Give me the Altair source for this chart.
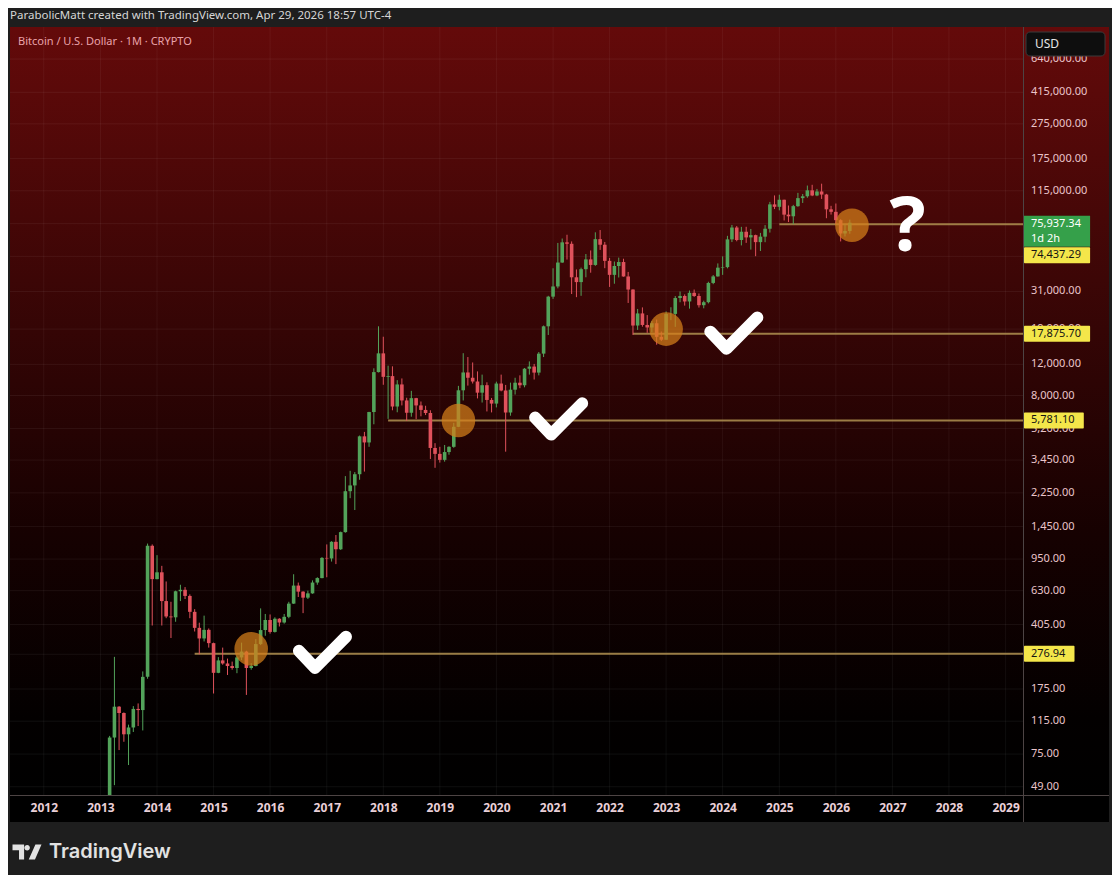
import altair as alt
import pandas as pd

# ---------------- data (monthly BTCUSD, Mar 2013 .. Apr 2026) ----------------
start_month = "2013-03-01"
first_open = 34
closes = [
    93, 139, 128, 97, 106, 135, 133, 205, 1130, 732,                                   # 2013
    800, 550, 450, 445, 625, 637, 588, 478, 388, 338, 378, 318,                         # 2014
    216, 254, 244, 236, 230, 264, 285, 230, 236, 314, 377, 430,                         # 2015
    368, 437, 416, 448, 532, 673, 622, 575, 608, 700, 742, 965,                         # 2016
    958, 1190, 1080, 1350, 2300, 2480, 2870, 4700, 4340, 6450, 10850, 13850,            # 2017
    10200, 10300, 6930, 9240, 7500, 6390, 7730, 7030, 6630, 6370, 4040, 3740,           # 2018
    3460, 3830, 4100, 5320, 8560, 10800, 10080, 9600, 8300, 9150, 7550, 7200,           # 2019
    9350, 8540, 6410, 8630, 9450, 9140, 11340, 11660, 10780, 13800, 19700, 28990,       # 2020
    33100, 45200, 58800, 57700, 37300, 35040, 41460, 47100, 43800, 61300, 57000, 46200, # 2021
    38500, 43200, 45500, 37700, 31800, 19900, 23300, 20050, 19400, 20500, 17170, 16540, # 2022
    23140, 23150, 28470, 29250, 27220, 30470, 29230, 25930, 26970, 34650, 37730, 42280, # 2023
    42580, 61130, 71330, 60640, 67500, 62700, 64600, 58970, 63330, 70200, 96400, 93400, # 2024
    102400, 84350, 82550, 94200, 104600, 107150, 115750, 108250, 114050, 109600, 90400, 87500,  # 2025
    78500, 66000, 68200, 75937.34,                                                      # 2026
]
highs = [
    95, 266, 140, 129, 110, 140, 145, 220, 1163, 1150,
    1000, 870, 710, 545, 630, 680, 660, 600, 495, 415, 455, 385,
    320, 265, 300, 260, 250, 270, 320, 288, 245, 335, 500, 465,
    462, 445, 440, 465, 545, 780, 700, 625, 630, 720, 750, 975,
    1150, 1200, 1300, 1360, 2800, 3000, 2950, 4750, 4980, 6470, 11400, 19700,
    17200, 11800, 11700, 9770, 9990, 7770, 8500, 7760, 7400, 7000, 6600, 4300,
    4100, 4200, 4130, 5600, 9070, 13880, 13200, 12300, 10950, 10500, 9500, 7750,
    9580, 10500, 9180, 9460, 10080, 10400, 11450, 12470, 12070, 14100, 19900, 29300,
    41950, 58350, 61800, 64900, 59500, 41300, 42300, 50500, 52900, 67000, 69000, 59100,
    48000, 45800, 48200, 47500, 40000, 31900, 24700, 25200, 22800, 21100, 21500, 18400,
    23900, 25250, 29200, 31000, 29850, 31400, 31800, 30200, 27500, 35200, 38400, 44700,
    48970, 64000, 73800, 72700, 71950, 72000, 70000, 65000, 66500, 73600, 99600, 108300,
    109350, 102500, 95000, 95750, 112000, 110400, 123200, 124400, 117900, 126200, 110600, 94600,
    97500, 79500, 74000, 79000,
]
lows = [
    33, 50, 79, 88, 65, 100, 108, 102, 200, 400,
    730, 400, 440, 340, 420, 550, 565, 440, 370, 275, 325, 300,
    165, 215, 240, 210, 225, 215, 255, 162, 225, 235, 310, 350,
    360, 365, 395, 410, 440, 530, 580, 470, 565, 605, 680, 740,
    750, 920, 890, 1070, 1340, 2100, 1800, 2670, 2970, 4100, 5500, 10800,
    9200, 5900, 6600, 6430, 7030, 5750, 6070, 5880, 6100, 6200, 3500, 3120,
    3340, 3380, 3700, 4050, 5300, 7500, 9100, 9350, 7700, 7300, 6500, 6420,
    6850, 8450, 3850, 6150, 8100, 8800, 8900, 10500, 9850, 10400, 13200, 17600,
    28150, 32300, 45000, 47000, 30000, 28800, 29300, 37300, 39600, 43300, 53300, 42000,
    32900, 34300, 37200, 37600, 26700, 17600, 18800, 19600, 18100, 18200, 15500, 16250,
    16500, 21350, 19550, 26950, 25800, 24800, 28900, 25150, 24900, 26550, 34100, 37600,
    38500, 41900, 59000, 59600, 56500, 58400, 53500, 49100, 52550, 58900, 66800, 90700,
    89200, 78200, 76600, 74400, 93400, 98200, 105100, 107300, 107300, 103500, 80500, 84400,
    74500, 59500, 63500, 65800,
]

price_ticks = [49, 75, 115, 175, 275, 405, 630, 950, 1450, 2250, 3450, 5200, 8000,
               12000, 19000, 31000, 49000, 75000, 115000, 175000, 275000, 415000, 640000]
years = list(range(2012, 2030))

level_prices = [276.94, 5781.10, 17875.70, 74437.29]
level_starts = ["2014-09-01", "2018-02-01", "2022-06-01", "2025-01-01"]
level_texts = ["276.94", "5,781.10", "17,875.70", "74,437.29"]

circle_dates = ["2015-09-01", "2019-05-01", "2023-01-01", "2026-04-15"]
circle_prices = [295, 5781, 19000, 73500]
check_dates = ["2016-12-01", "2021-02-03", "2024-03-10"]
check_prices = [284, 5930, 18150]
question_date = "2027-04-10"
question_price = 71000

last_price_text = "75,937.34"
countdown_text = "1d 2h"
header_text = "ParabolicMatt created with TradingView.com, Apr 29, 2026 18:57 UTC-4"
title_text = "Bitcoin / U.S. Dollar · 1M · CRYPTO"

# ---------------- frames ----------------
n = len(closes)
assert len(highs) == n and len(lows) == n
opens = [first_open] + closes[:-1]
df = pd.DataFrame({
    "date": pd.date_range(start_month, periods=n, freq="MS"),
    "open": opens, "high": highs, "low": lows, "close": closes,
})
df["dir"] = ["up" if c >= o else "down" for o, c in zip(opens, closes)]

W, H = 1013, 768
AX = 86  # price-axis panel width
FONT = "Noto Sans"
GREEN, RED = "#53a35a", "#e0525c"
LEVEL = "#a88a4c"

xs = alt.Scale(domain=[alt.DateTime(year=2011, month=6, date=29),
                       alt.DateTime(year=2029, month=3, date=22)], nice=False)
ys = alt.Scale(type="log", domain=[44.0, 971400], nice=False)

X_AXIS = alt.Axis(
    values=[alt.DateTime(year=y, month=1, date=1) for y in years], format="%Y",
    grid=False, ticks=False, domain=False, labelColor="#ead0d8", labelFont=FONT,
    labelFontSize=12, labelFontWeight="bold", labelPadding=7, title=None, zindex=1,
    labelOverlap=False, labelFlush=False)

one = pd.DataFrame({"k": [0]})


def X(field="date:T", **kw):
    return alt.X(field, scale=xs, axis=X_AXIS, **kw)


def Y(field, **kw):
    return alt.Y(field, scale=ys, axis=None, **kw)


layers = []

grad = alt.Gradient(
    gradient="linear",
    stops=[alt.GradientStop(color="#640a0a", offset=0),
           alt.GradientStop(color="#3c0606", offset=0.33),
           alt.GradientStop(color="#160101", offset=0.66),
           alt.GradientStop(color="#030000", offset=0.9),
           alt.GradientStop(color="#000000", offset=1)],
    x1=0, x2=0, y1=0, y2=1)
layers.append(alt.Chart(one).mark_rect(fill=grad).encode(
    x=alt.value(0), x2=alt.value(W + AX), y=alt.value(0), y2=alt.value(H)))
layers.append(alt.Chart(one).mark_rect(fill="#000000").encode(
    x=alt.value(0), x2=alt.value(W + AX), y=alt.value(H), y2=alt.value(H + 27)))

# grid
tick_df = pd.DataFrame({"v": price_ticks, "lab": [f"{v:,.2f}" for v in price_ticks]})
layers.append(alt.Chart(tick_df).mark_rule(color="#ffffff", opacity=0.06, strokeWidth=1).encode(
    y=Y("v:Q"), x=alt.value(0), x2=alt.value(W)))
year_df = pd.DataFrame({"date": pd.to_datetime([f"{y}-01-01" for y in years])})
layers.append(alt.Chart(year_df).mark_rule(color="#ffffff", opacity=0.05, strokeWidth=1).encode(
    x=X(), y=alt.value(0), y2=alt.value(H)))

# separators
layers.append(alt.Chart(one).mark_rule(color="#4d4444", strokeWidth=1).encode(
    x=alt.value(W + 0.5), y=alt.value(0), y2=alt.value(H + 27)))
layers.append(alt.Chart(one).mark_rule(color="#4d4444", strokeWidth=1).encode(
    y=alt.value(H + 0.5), x=alt.value(0), x2=alt.value(W + AX)))

# price tick labels
layers.append(alt.Chart(tick_df).mark_text(align="left", baseline="middle", font=FONT,
                                           fontSize=11, color="#eac4ca").encode(
    x=alt.value(W + 8), y=Y("v:Q"), text="lab:N"))

# level lines
lvl_df = pd.DataFrame({"date": pd.to_datetime(level_starts), "p": level_prices})
layers.append(alt.Chart(lvl_df).mark_rule(color=LEVEL, strokeWidth=2, opacity=0.9).encode(
    x=X(), x2=alt.value(W), y=Y("p:Q")))

# candles
color = alt.Color("dir:N", scale=alt.Scale(domain=["up", "down"], range=[GREEN, RED]), legend=None)
layers.append(alt.Chart(df).mark_rule(clip=True, strokeWidth=1).encode(
    x=X(), y=Y("low:Q"), y2="high:Q", color=color))
layers.append(alt.Chart(df).mark_bar(clip=True, size=3.6).encode(
    x=X(), y=Y("open:Q"), y2="close:Q", color=color))

# annotations
circ_df = pd.DataFrame({"date": pd.to_datetime(circle_dates), "p": circle_prices})
layers.append(alt.Chart(circ_df).mark_circle(size=1130, color="#d6801a", opacity=0.72).encode(
    x=X(), y=Y("p:Q")))
chk_df = pd.DataFrame({"date": pd.to_datetime(check_dates), "p": check_prices})
layers.append(alt.Chart(chk_df).mark_point(
    shape="M -0.96 -0.04 L -0.29 0.67 L 1 -0.63", size=2304, filled=False, color="#ffffff",
    strokeWidth=12, strokeCap="round", strokeJoin="round", opacity=1).encode(
    x=X(), y=Y("p:Q")))
q_df = pd.DataFrame({"date": pd.to_datetime([question_date]), "p": [question_price]})
layers.append(alt.Chart(q_df).mark_text(text="?", font="Open Sans", fontWeight="bold",
                                        fontSize=76, color="#ffffff", baseline="middle").encode(
    x=X(), y=Y("p:Q")))

# price labels on axis
def text_w(s):
    return sum(6.3 if ch.isdigit() else 3.0 for ch in s) + 16


for i, (p, t) in enumerate(zip(level_prices, level_texts)):
    shift = 31 if i == 3 else 0
    d = pd.DataFrame({"p": [p], "t": [t]})
    layers.append(alt.Chart(d).mark_rect(fill="#f4e64a", yOffset=-8 + shift, y2Offset=8 + shift,
                                         cornerRadius=1).encode(
        x=alt.value(W + 1), x2=alt.value(W + 1 + text_w(t)), y=Y("p:Q"), y2="p:Q"))
    layers.append(alt.Chart(d).mark_text(align="left", baseline="middle", font=FONT, fontSize=11,
                                         color="#141414", yOffset=shift).encode(
        x=alt.value(W + 8), y=Y("p:Q"), text="t:N"))

last_df = pd.DataFrame({"p": [closes[-1]], "t": [last_price_text], "c": [countdown_text]})
layers.append(alt.Chart(last_df).mark_rect(fill="#35a04a", yOffset=-7, y2Offset=24).encode(
    x=alt.value(W + 1), x2=alt.value(W + 1 + text_w(last_price_text)), y=Y("p:Q"), y2="p:Q"))
layers.append(alt.Chart(last_df).mark_text(align="left", baseline="middle", font=FONT, fontSize=11,
                                           color="#ffffff", yOffset=1.5).encode(
    x=alt.value(W + 8), y=Y("p:Q"), text="t:N"))
layers.append(alt.Chart(last_df).mark_text(align="left", baseline="middle", font=FONT, fontSize=11,
                                           color="#ffffff", yOffset=16).encode(
    x=alt.value(W + 8), y=Y("p:Q"), text="c:N"))

# USD box
layers.append(alt.Chart(one).mark_rect(fill="#0e0e0e", stroke="#3a3a3a", strokeWidth=1,
                                       cornerRadius=4).encode(
    x=alt.value(1016), x2=alt.value(1095), y=alt.value(5), y2=alt.value(29)))
layers.append(alt.Chart(one).mark_text(align="left", baseline="middle", font=FONT, fontSize=12,
                                       color="#e6e6e6").encode(
    x=alt.value(1025), y=alt.value(17), text=alt.value("USD")))

# header / title / footer
layers.append(alt.Chart(one).mark_text(align="left", baseline="middle", font=FONT, fontSize=11.5,
                                       color="#d6d6d6").encode(
    x=alt.value(0), y=alt.value(-11), text=alt.value(header_text)))
layers.append(alt.Chart(one).mark_text(align="left", baseline="middle", font=FONT, fontSize=11,
                                       color="#e9a3aa").encode(
    x=alt.value(8), y=alt.value(15), text=alt.value(title_text)))
logo = ("M -1 -0.52 H -0.2 V 0.52 H -0.55 V -0.12 H -1 Z "
        "M -0.18 -0.3 A 0.19 0.19 0 1 0 0.2 -0.3 A 0.19 0.19 0 1 0 -0.18 -0.3 Z "
        "M 0.12 0.52 L 0.58 -0.52 H 1 L 0.55 0.52 Z")
layers.append(alt.Chart(one).mark_point(shape=logo, size=841, filled=True, color="#e2e2e2",
                                        opacity=1, strokeWidth=0).encode(
    x=alt.value(17), y=alt.value(825)))
layers.append(alt.Chart(one).mark_text(align="left", baseline="middle", font="Inter",
                                       fontWeight=600, fontSize=20, color="#e2e2e2").encode(
    x=alt.value(39), y=alt.value(825), text=alt.value("TradingView")))

chart = alt.layer(*layers).properties(
    width=W, height=H,
    padding={"left": 2, "top": 19, "right": 89, "bottom": 80},
    autosize=alt.AutoSizeParams(type="none"),
    background="#1e1e1e",
).configure_view(stroke=None)

chart.save("out.html", embed_options={"renderer": "svg", "actions": False})
